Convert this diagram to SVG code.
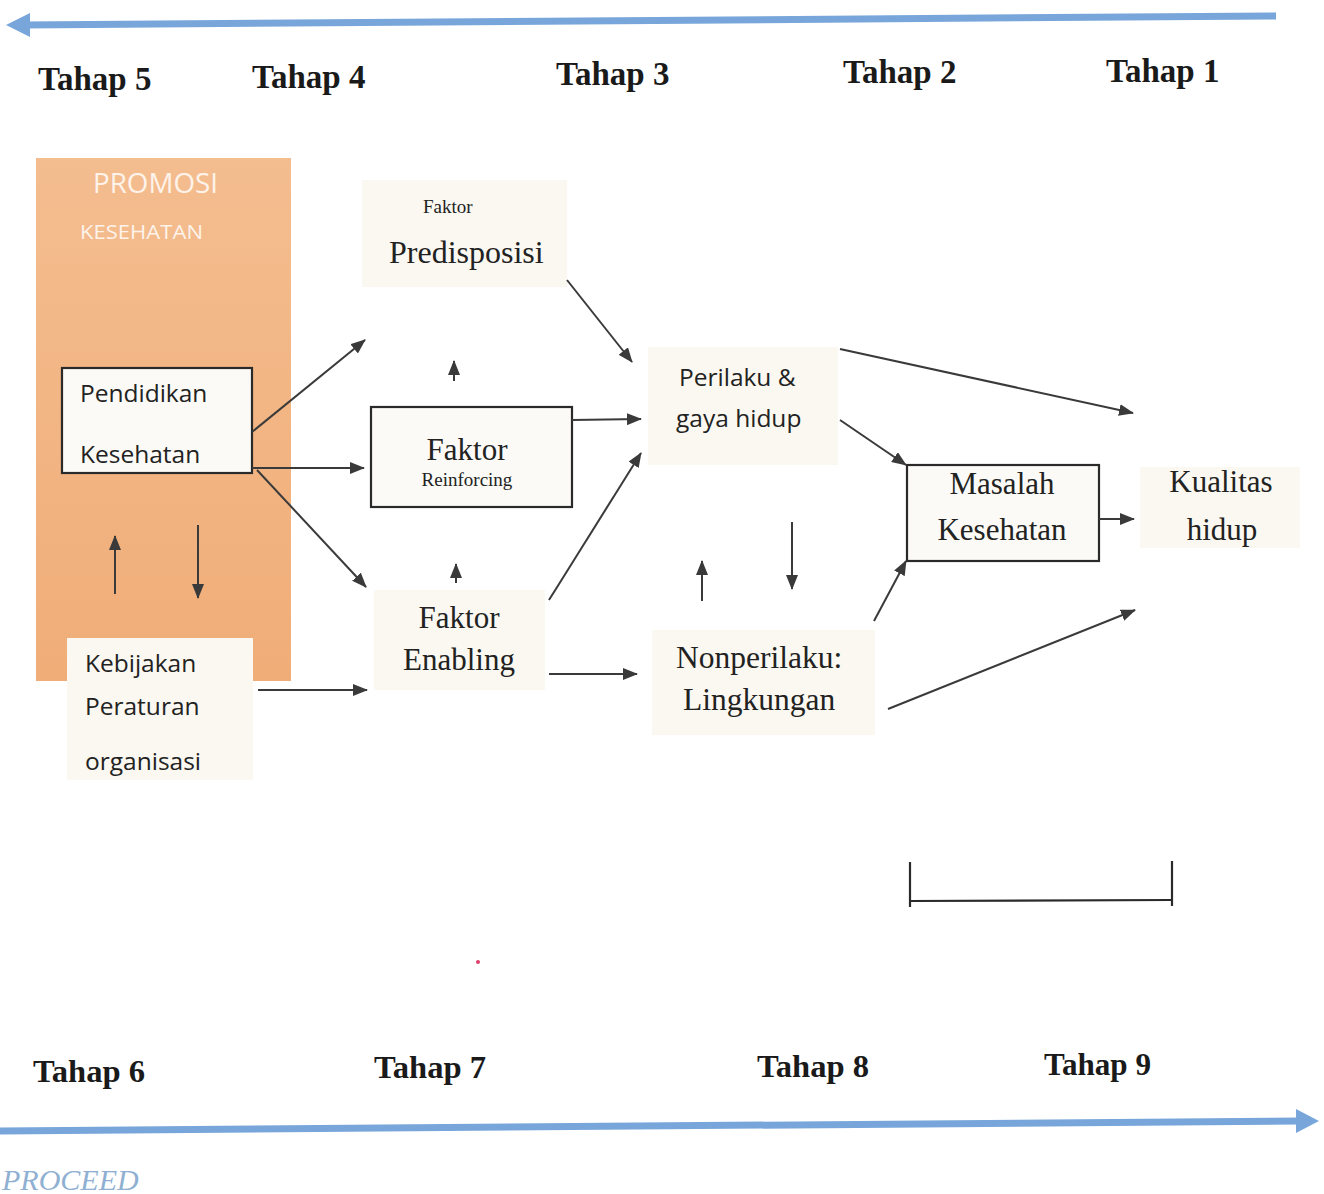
<svg xmlns="http://www.w3.org/2000/svg" width="1324" height="1194" viewBox="0 0 1324 1194">
<defs>
<marker id="ah" markerUnits="userSpaceOnUse" markerWidth="16" markerHeight="12" refX="14" refY="6" orient="auto">
<path d="M0,0 L15,6 L0,12 z" fill="#3a3a3a"/>
</marker>
<linearGradient id="og" x1="0" y1="0" x2="0" y2="1">
<stop offset="0" stop-color="#f4bd8f"/>
<stop offset="1" stop-color="#f0ad78"/>
</linearGradient>
<style>
.tahap{font-family:"Liberation Serif","Times New Roman",serif;font-weight:bold;font-size:33px;fill:#1a1a1a}
.tahapb{font-family:"Liberation Serif","Times New Roman",serif;font-weight:bold;font-size:32px;fill:#1a1a1a}
.sans{font-family:"Open Sans","Noto Sans",sans-serif;font-size:24.5px;fill:#222}
.serif{font-family:"Liberation Serif","Times New Roman",serif;fill:#222}
.lbg{fill:#faf8f1}
.box{fill:#fbfaf6;stroke:#2a2a2a;stroke-width:2.2}
.conn{stroke:#3a3a3a;stroke-width:2;fill:none;marker-end:url(#ah)}
.blue{stroke:#78a6da;stroke-width:7;fill:none}
</style>
</defs>
<rect width="1324" height="1194" fill="#ffffff"/>

<g id="timeline-top">
<line class="blue" x1="1276" y1="16" x2="24" y2="25"/>
<polygon points="6,25 30,13 30,37" fill="#78a6da"/>
</g>
<g id="timeline-bottom">
<line class="blue" x1="0" y1="1131" x2="1300" y2="1121"/>
<polygon points="1319,1121 1296,1109 1296,1133" fill="#78a6da"/>
</g>

<g id="tahap-labels">
<text class="tahap" x="38" y="90">Tahap 5</text>
<text class="tahap" x="252" y="88">Tahap 4</text>
<text class="tahap" x="556" y="85">Tahap 3</text>
<text class="tahap" x="843" y="83">Tahap 2</text>
<text class="tahap" x="1106" y="82">Tahap 1</text>
<text class="tahapb" x="33" y="1082" textLength="112" lengthAdjust="spacingAndGlyphs">Tahap 6</text>
<text class="tahapb" x="374" y="1078" textLength="112" lengthAdjust="spacingAndGlyphs">Tahap 7</text>
<text class="tahapb" x="757" y="1077" textLength="112" lengthAdjust="spacingAndGlyphs">Tahap 8</text>
<text class="tahapb" x="1044" y="1075" textLength="107" lengthAdjust="spacingAndGlyphs">Tahap 9</text>
</g>

<g id="promosi-kesehatan">
<rect x="36" y="158" width="255" height="523" fill="url(#og)"/>
<text x="93" y="193" font-family="'Open Sans','Noto Sans',sans-serif" font-size="27" fill="#fdf3ea" textLength="125" lengthAdjust="spacingAndGlyphs">PROMOSI</text>
<text x="80" y="239" font-family="'Open Sans','Noto Sans',sans-serif" font-size="20" fill="#fdf3ea" textLength="123" lengthAdjust="spacingAndGlyphs">KESEHATAN</text>
</g>

<g id="pendidikan-kesehatan">
<rect class="box" x="62" y="368" width="190" height="105"/>
<text class="sans" x="80" y="402">Pendidikan</text>
<text class="sans" x="80" y="463">Kesehatan</text>
</g>

<g id="kebijakan">
<rect class="lbg" x="67" y="638" width="186" height="142"/>
<text class="sans" x="85" y="672">Kebijakan</text>
<text class="sans" x="85" y="715">Peraturan</text>
<text class="sans" x="85" y="770">organisasi</text>
</g>

<g id="faktor-predisposisi">
<rect class="lbg" x="362" y="180" width="205" height="107"/>
<text class="serif" x="423" y="213" font-size="19">Faktor</text>
<text class="serif" x="389" y="263" font-size="32">Predisposisi</text>
</g>

<g id="faktor-reinforcing">
<rect class="box" x="371" y="407" width="201" height="100"/>
<text class="serif" x="467" y="460" font-size="31" text-anchor="middle">Faktor</text>
<text class="serif" x="467" y="486" font-size="19" text-anchor="middle">Reinforcing</text>
</g>

<g id="faktor-enabling">
<rect class="lbg" x="374" y="590" width="171" height="100"/>
<text class="serif" x="459" y="628" font-size="31" text-anchor="middle">Faktor</text>
<text class="serif" x="459" y="670" font-size="31" text-anchor="middle">Enabling</text>
</g>

<g id="perilaku">
<rect class="lbg" x="648" y="347" width="190" height="118"/>
<text class="sans" x="679" y="386">Perilaku &amp;</text>
<text class="sans" x="676" y="427">gaya hidup</text>
</g>

<g id="nonperilaku">
<rect class="lbg" x="652" y="630" width="223" height="105"/>
<text class="serif" x="676" y="668" font-size="31.5">Nonperilaku:</text>
<text class="serif" x="683" y="710" font-size="31.5">Lingkungan</text>
</g>

<g id="masalah-kesehatan">
<rect class="box" x="907" y="465" width="192" height="96"/>
<text class="serif" x="1002" y="494" font-size="31" text-anchor="middle">Masalah</text>
<text class="serif" x="1002" y="540" font-size="31" text-anchor="middle">Kesehatan</text>
</g>

<g id="kualitas-hidup">
<rect class="lbg" x="1140" y="467" width="160" height="81"/>
<text class="serif" x="1221" y="492" font-size="31" text-anchor="middle">Kualitas</text>
<text class="serif" x="1222" y="540" font-size="31" text-anchor="middle">hidup</text>
</g>

<g id="connectors">
<line class="conn" x1="252" y1="432" x2="365" y2="340"/>
<line class="conn" x1="252" y1="468" x2="364" y2="468"/>
<line class="conn" x1="257" y1="470" x2="366" y2="587"/>
<line class="conn" x1="258" y1="690" x2="367" y2="690"/>
<line class="conn" x1="567" y1="280" x2="632" y2="362"/>
<line class="conn" x1="572" y1="420" x2="641" y2="419"/>
<line class="conn" x1="549" y1="600" x2="641" y2="453"/>
<line class="conn" x1="549" y1="674" x2="637" y2="674"/>
<line class="conn" x1="840" y1="349" x2="1133" y2="413"/>
<line class="conn" x1="840" y1="420" x2="906" y2="465"/>
<line class="conn" x1="874" y1="621" x2="906" y2="561"/>
<line class="conn" x1="888" y1="709" x2="1135" y2="610"/>
<line class="conn" x1="1099" y1="519" x2="1134" y2="519"/>
<line class="conn" x1="702" y1="601" x2="702" y2="561"/>
<line class="conn" x1="792" y1="522" x2="792" y2="589"/>
<line class="conn" x1="454" y1="381" x2="454" y2="361"/>
<line class="conn" x1="456" y1="583" x2="456" y2="564"/>
<line class="conn" x1="115" y1="594" x2="115" y2="536"/>
<line class="conn" x1="198" y1="525" x2="198" y2="598"/>
</g>

<g id="bracket" stroke="#2a2a2a" stroke-width="2.2" fill="none">
<line x1="910" y1="862" x2="910" y2="907"/>
<line x1="910" y1="901" x2="1172" y2="900"/>
<line x1="1172" y1="861" x2="1172" y2="906"/>
</g>

<circle cx="478" cy="962" r="2" fill="#e0406a"/>

<text x="2" y="1190" font-family="'Liberation Serif','Times New Roman',serif" font-style="italic" font-size="30" fill="#8fb0d2">PROCEED</text>
</svg>
